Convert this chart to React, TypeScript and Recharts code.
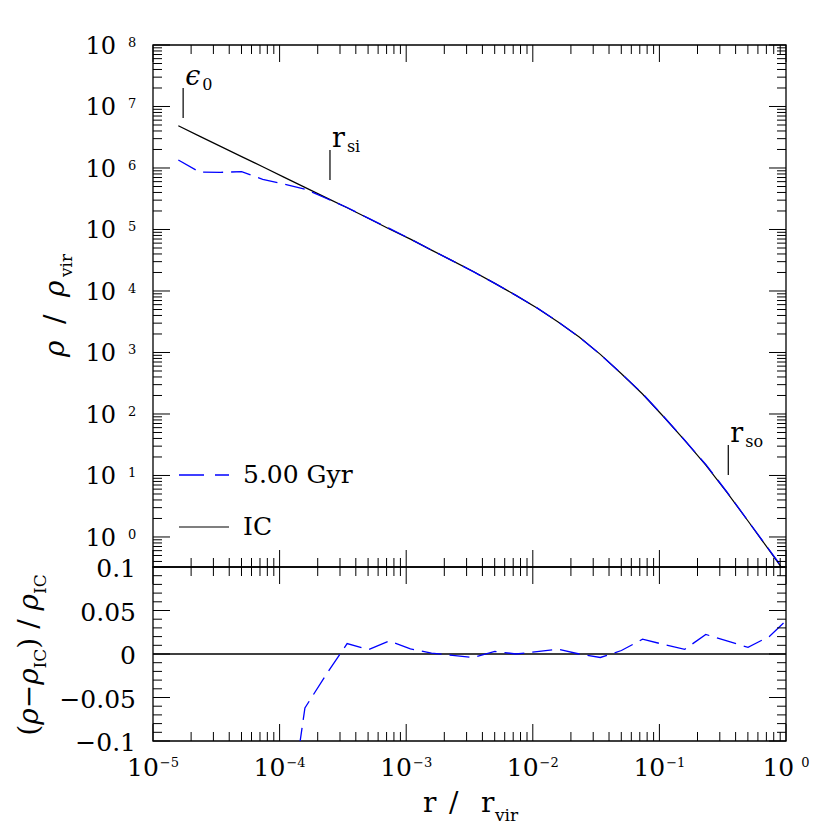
import React from 'react';
import { LineChart, Line, XAxis, YAxis, ReferenceLine, ReferenceDot, ReferenceArea } from 'recharts';

// ---------- data ----------
const radii = [
  1.585e-5, 2.326e-5, 3.415e-5, 5.012e-5, 7.356e-5, 1.08e-4, 1.585e-4, 2.326e-4, 3.415e-4, 5.012e-4,
  7.356e-4, 1.08e-3, 1.585e-3, 2.326e-3, 3.415e-3, 5.012e-3, 7.356e-3, 1.08e-2, 1.585e-2, 2.326e-2,
  3.415e-2, 5.012e-2, 7.356e-2, 0.108, 0.1585, 0.2326, 0.3415, 0.5012, 0.7356, 1.08,
];
const rhoIC = [
  4.85e6, 3.3e6, 2.25e6, 1.53e6, 1.05e6, 7.11e5, 4.84e5, 3.3e5, 2.25e5, 1.52e5,
  1.02e5, 6.97e4, 4.62e4, 3.09e4, 2.05e4, 1.33e4, 8.49e3, 5.3e3, 3.13e3, 1.78e3,
  933, 452, 211, 90.2, 37.2, 14.8, 5.31, 1.82, 0.61, 0.202,
];
const rho5Gyr = [
  1.35e6, 8.6e5, 8.5e5, 8.7e5, 6.55e5, 5.47e5, 4.54e5, 3.22e5, 2.28e5, 1.53e5,
  1.04e5, 7.01e4, 4.62e4, 3.09e4, 2.04e4, 1.33e4, 8.49e3, 5.31e3, 3.15e3, 1.78e3,
  929, 454, 215, 91.2, 37.4, 15.1, 5.39, 1.83, 0.622, 0.211,
];
const residual5Gyr = [
  -0.72, -0.74, -0.62, -0.43, -0.37, -0.23, -0.062, -0.024, 0.012, 0.005,
  0.015, 0.006, 0.001, -0.0015, -0.004, 0.003, 0.0, 0.0027, 0.0054, 0.0,
  -0.004, 0.004, 0.017, 0.011, 0.0054, 0.0225, 0.015, 0.0077, 0.02, 0.043,
];

// tick values / labels
const xMajorExponents = [-5, -4, -3, -2, -1, 0];
const xExponentLabels = ['\u22125', '\u22124', '\u22123', '\u22122', '\u22121', '0'];
const yMajorExponents = [0, 1, 2, 3, 4, 5, 6, 7, 8];
const residTickValues = [-0.1, -0.09, -0.08, -0.07, -0.06, -0.05, -0.04, -0.03, -0.02, -0.01, 0,
  0.01, 0.02, 0.03, 0.04, 0.05, 0.06, 0.07, 0.08, 0.09, 0.1];
const residMajorValues = [-0.1, -0.05, 0, 0.05, 0.1];
const residMajorLabels = ['\u22120.1', '\u22120.05', '0', '0.05', '0.1'];

// scale markers
const markerNames = ['\u03f5', 'r', 'r'];
const markerSubs = ['0', 'si', 'so'];
const markerRadius = [1.73e-5, 2.5e-4, 0.35];
const markerTop = [2.0e7, 1.96e6, 31.3];
const markerBottom = [6.5e6, 6.38e5, 10.2];

const legendLabels = ['5.00 Gyr', 'IC'];

// ---------- layout ----------
const FONT = 'DejaVu Serif';
const PL = 153;
const PR = 786;
const TT = 45;
const TB = 567;
const BB = 741;
const X_DOMAIN: [number, number] = [1e-5, 1];
const Y_MIN = 0.325;
const Y_DOMAIN: [number, number] = [Y_MIN, 1e8];
const BLUE = '#0000ff';
const DASH = '20 8';

const xTicks: number[] = [];
xMajorExponents.forEach((e) => {
  xTicks.push(Math.pow(10, e));
  if (e < 0) for (let m = 2; m <= 9; m++) xTicks.push(m * Math.pow(10, e));
});
const yTicks: number[] = [];
for (let e = -1; e <= 8; e++) {
  if (e >= 0) yTicks.push(Math.pow(10, e));
  if (e < 8) for (let m = 2; m <= 9; m++) {
    const v = m * Math.pow(10, e);
    if (v >= Y_MIN) yTicks.push(v);
  }
}

const isDecade = (v: number) => {
  const l = Math.log10(v);
  return Math.abs(l - Math.round(l)) < 1e-6;
};

const topData = radii.map((r, i) => ({ r, ic: rhoIC[i], g5: rho5Gyr[i] }));
const botData = radii.map((r, i) => ({ r, res: residual5Gyr[i] }));

// ---------- tick renderers ----------
const TopXTick = (props: any) => {
  const { x, payload } = props;
  const len = isDecade(payload.value) ? 17 : 9;
  return (
    <g>
      <line x1={x} x2={x} y1={TB} y2={TB - len} stroke="#000" strokeWidth={1} />
      <line x1={x} x2={x} y1={TT} y2={TT + len} stroke="#000" strokeWidth={1} />
    </g>
  );
};

const BotXTick = (props: any) => {
  const { x, payload } = props;
  const major = isDecade(payload.value);
  const len = major ? 17 : 9;
  const e = Math.round(Math.log10(payload.value));
  const idx = xMajorExponents.indexOf(e);
  return (
    <g>
      <line x1={x} x2={x} y1={BB} y2={BB - len} stroke="#000" strokeWidth={1} />
      <line x1={x} x2={x} y1={TB} y2={TB + len} stroke="#000" strokeWidth={1} />
      {major && idx >= 0 && (
        <text x={x} y={BB + 35} textAnchor="middle" fontFamily={FONT} fontSize={25} fill="#000">
          <tspan>10</tspan>
          <tspan dx={e === 0 ? 7 : 1} dy={-9} fontSize={13}>{xExponentLabels[idx]}</tspan>
        </text>
      )}
    </g>
  );
};

const TopYTick = (props: any) => {
  const { y, payload } = props;
  const major = isDecade(payload.value);
  const len = major ? 17 : 9;
  const e = Math.round(Math.log10(payload.value));
  return (
    <g>
      <line x1={PL} x2={PL + len} y1={y} y2={y} stroke="#000" strokeWidth={1} />
      <line x1={PR} x2={PR - len} y1={y} y2={y} stroke="#000" strokeWidth={1} />
      {major && yMajorExponents.indexOf(e) >= 0 && (
        <g>
          <text x={PL - 37} y={y + 9} textAnchor="end" fontFamily={FONT} fontSize={24} fill="#000">10</text>
          <text x={PL - 25} y={y + 2} textAnchor="start" fontFamily={FONT} fontSize={13} fill="#000">{String(e)}</text>
        </g>
      )}
    </g>
  );
};

const BotYTick = (props: any) => {
  const { y, payload } = props;
  const v = payload.value;
  const idx = residMajorValues.findIndex((m) => Math.abs(m - v) < 1e-9);
  const len = idx >= 0 ? 17 : 9;
  return (
    <g>
      <line x1={PL} x2={PL + len} y1={y} y2={y} stroke="#000" strokeWidth={1} />
      <line x1={PR} x2={PR - len} y1={y} y2={y} stroke="#000" strokeWidth={1} />
      {idx >= 0 && (
        <text x={PL - 17} y={y + 10} textAnchor="end" fontFamily={FONT} fontSize={25} fill="#000">
          {residMajorLabels[idx]}
        </text>
      )}
    </g>
  );
};

const makeMarkerLabel = (i: number) => (p: any) => (
  <text x={p.cx + 2} y={p.cy - 3} fontFamily={FONT} fontSize={27} fill="#000">
    <tspan fontStyle={i === 0 ? 'italic' : 'normal'}>{markerNames[i]}</tspan>
    <tspan dx={2} dy={5} fontSize={16}>{markerSubs[i]}</tspan>
  </text>
);

export default function App() {
  return (
    <div style={{ position: 'absolute', left: 0, top: 0, width: 830, height: 830, background: '#fff' }}>
      <div style={{ position: 'absolute', left: 0, top: 0 }}>
        <LineChart width={830} height={600} data={topData}
          margin={{ top: TT, right: 830 - PR - 1, bottom: 600 - TB - 1, left: PL - 1 }}>
          <XAxis dataKey="r" type="number" scale="log" domain={X_DOMAIN} allowDataOverflow
            ticks={xTicks} interval={0} height={1} tickSize={0} tickMargin={0}
            axisLine={false} tickLine={false} tick={TopXTick} />
          <YAxis type="number" scale="log" domain={Y_DOMAIN} allowDataOverflow
            ticks={yTicks} interval={0} width={1} tickSize={0} tickMargin={0}
            axisLine={false} tickLine={false} tick={TopYTick} />
          <YAxis yAxisId="r" orientation="right" type="number" scale="log" domain={Y_DOMAIN}
            allowDataOverflow width={1} tick={false} tickLine={false} axisLine={false} />
          <ReferenceArea x1={1e-5} x2={1} y1={Y_MIN} y2={1e8} fill="none" stroke="#000" strokeWidth={1.3} />
          <Line dataKey="ic" stroke="#000" strokeWidth={1.2} dot={false} isAnimationActive={false} />
          <Line dataKey="g5" stroke={BLUE} strokeWidth={1.3} strokeDasharray={DASH} dot={false}
            isAnimationActive={false} />
          {markerRadius.map((r, i) => (
            <ReferenceLine key={'ml' + i} segment={[{ x: r, y: markerTop[i] }, { x: r, y: markerBottom[i] }]}
              stroke="#000" strokeWidth={1.2} />
          ))}
          {markerRadius.map((r, i) => (
            <ReferenceDot key={'md' + i} x={r} y={markerTop[i]} r={0} shape={makeMarkerLabel(i)} />
          ))}
        </LineChart>
      </div>
      <div style={{ position: 'absolute', left: 0, top: 0 }}>
        <LineChart width={830} height={830} data={botData}
          margin={{ top: TB, right: 830 - PR - 1, bottom: 830 - BB - 1, left: PL - 1 }}>
          <XAxis dataKey="r" type="number" scale="log" domain={X_DOMAIN} allowDataOverflow
            ticks={xTicks} interval={0} height={1} tickSize={0} tickMargin={0}
            axisLine={false} tickLine={false} tick={BotXTick} />
          <YAxis type="number" domain={[-0.1, 0.1]} allowDataOverflow
            ticks={residTickValues} interval={0} width={1} tickSize={0} tickMargin={0}
            axisLine={false} tickLine={false} tick={BotYTick} />
          <YAxis yAxisId="r" orientation="right" type="number" domain={[-0.1, 0.1]}
            allowDataOverflow width={1} tick={false} tickLine={false} axisLine={false} />
          <ReferenceArea x1={1e-5} x2={1} y1={-0.1} y2={0.1} fill="none" stroke="#000" strokeWidth={1.3} />
          <ReferenceLine y={0} stroke="#000" strokeWidth={1.3} />
          <Line dataKey="res" stroke={BLUE} strokeWidth={1.3} strokeDasharray={DASH} dot={false}
            isAnimationActive={false} />
        </LineChart>
      </div>
      <svg width={830} height={830} style={{ position: 'absolute', left: 0, top: 0, pointerEvents: 'none' }}>
        {/* legend */}
        <line x1={179} x2={229} y1={475} y2={475} stroke={BLUE} strokeWidth={1.3} strokeDasharray="25 11" />
        <text x={243} y={483} fontFamily={FONT} fontSize={25} fill="#000">{legendLabels[0]}</text>
        <line x1={179} x2={229} y1={527} y2={527} stroke="#000" strokeWidth={1.2} />
        <text x={243} y={535} fontFamily={FONT} fontSize={25} fill="#000">{legendLabels[1]}</text>
        {/* x title */}
        <text y={812} fontFamily={FONT} fontSize={28} fill="#000">
          <tspan x={423}>r</tspan>
          <tspan x={449}>/</tspan>
          <tspan x={481}>r</tspan>
          <tspan x={495} dy={9} fontSize={17}>vir</tspan>
        </text>
        {/* top y title */}
        <text transform="translate(64,357) rotate(-90)" fontFamily={FONT} fontSize={28} fill="#000">
          <tspan x={0} y={0} fontStyle="italic">ρ</tspan>
          <tspan x={33} y={0}>/</tspan>
          <tspan x={60} y={0} fontStyle="italic">ρ</tspan>
          <tspan x={80} y={8} fontSize={17}>vir</tspan>
        </text>
        {/* bottom y title */}
        <text transform="translate(38,655) rotate(-90)" textAnchor="middle" fontFamily={FONT} fontSize={28} fill="#000">
          <tspan>(</tspan>
          <tspan fontStyle="italic">ρ</tspan>
          <tspan>−</tspan>
          <tspan fontStyle="italic">ρ</tspan>
          <tspan dy={8} fontSize={17}>IC</tspan>
          <tspan dy={-8}>) / </tspan>
          <tspan fontStyle="italic">ρ</tspan>
          <tspan dy={8} fontSize={17}>IC</tspan>
        </text>
      </svg>
    </div>
  );
}
